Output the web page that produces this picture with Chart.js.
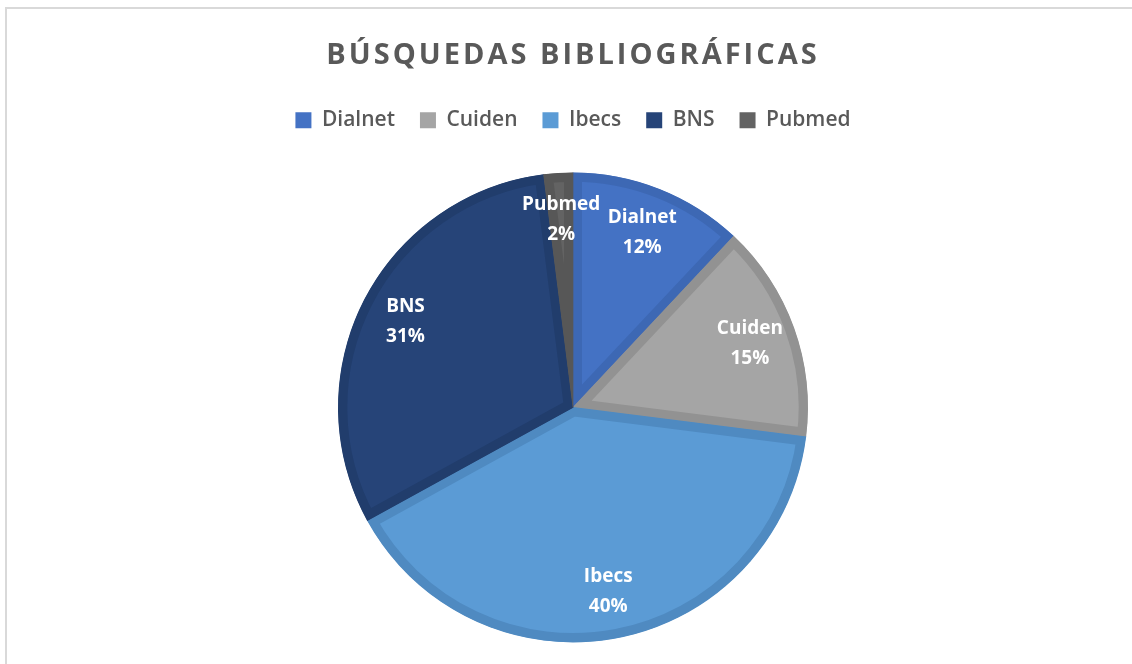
<!DOCTYPE html>
<html>
<head>
<meta charset="utf-8">
<script src="https://cdn.jsdelivr.net/npm/chart.js@4"></script>
<style>
  html, body { margin: 0; padding: 0; background: #fff; }
  body { width: 1132px; height: 664px; position: relative; overflow: hidden; }
  .frame { position: absolute; left: 5px; top: 7px; width: 1200px; height: 700px;
           border-left: 2px solid #d9d9d9; border-top: 2px solid #d9d9d9; }
  #wrap { position: absolute; left: 0; top: 0; width: 1132px; height: 664px; }
</style>
</head>
<body>
<div class="frame"></div>
<div id="wrap"><canvas id="pieCanvas"></canvas></div>
<script>
// datos de la gráfica
const categories = ['Dialnet', 'Cuiden', 'Ibecs', 'BNS', 'Pubmed'];
const values = [12, 15, 40, 31, 2];
const fillColors = ['#4472C4', '#A5A5A5', '#5B9BD5', '#264478', '#636363'];
const edgeColors = ['#3D68B4', '#929292', '#4F8AC1', '#213D6C', '#575757'];

Chart.defaults.font.family = "'Open Sans', 'DejaVu Sans', sans-serif";

// etiquetas dentro de cada porción (nombre + porcentaje)
const sliceLabels = {
    id: 'sliceLabels',
    afterDatasetsDraw(chart) {
        const { ctx } = chart;
        const meta = chart.getDatasetMeta(0);
        const data = chart.data.datasets[0].data;
        const total = data.reduce((a, b) => a + b, 0);
        ctx.save();
        ctx.fillStyle = '#ffffff';
        ctx.font = "bold 19px 'Open Sans', sans-serif";
        ctx.textAlign = 'center';
        ctx.textBaseline = 'middle';
        meta.data.forEach((arc, i) => {
            const p = arc.getProps(['x', 'y', 'startAngle', 'endAngle', 'outerRadius'], true);
            const mid = (p.startAngle + p.endAngle) / 2;
            const r = p.outerRadius * 0.8;
            const x = p.x + Math.cos(mid) * r;
            const y = p.y + Math.sin(mid) * r;
            ctx.fillText(chart.data.labels[i], x, y - 15);
            ctx.fillText(Math.round(data[i] / total * 100) + '%', x, y + 15);
        });
        ctx.restore();
    }
};

// más espacio bajo la leyenda + espaciado de letras en el título
const layoutTweaks = {
    id: 'layoutTweaks',
    beforeInit(chart) {
        const fit = chart.legend.fit;
        chart.legend.fit = function () {
            fit.bind(chart.legend)();
            this.height += 34;
        };
    },
    afterLayout(chart) {
        const tb = chart.titleBlock;
        if (tb && !tb._spaced) {
            const draw = tb.draw;
            tb.draw = function () {
                const ctx = chart.ctx;
                const prev = ctx.letterSpacing;
                ctx.letterSpacing = '3px';
                draw.call(tb);
                ctx.letterSpacing = prev || '0px';
            };
            tb._spaced = true;
        }
    }
};

new Chart(document.getElementById('pieCanvas'), {
    type: 'pie',
    data: {
        labels: categories,
        datasets: [{
            data: values,
            backgroundColor: fillColors,
            borderColor: edgeColors,
            borderWidth: 9,
            borderAlign: 'inner',
            hoverOffset: 0
        }]
    },
    options: {
        responsive: true, maintainAspectRatio: false, animation: false,
        radius: 235,
        layout: { padding: { left: 14, bottom: 24 } },
        plugins: {
            title: {
                display: true, text: 'BÚSQUEDAS BIBLIOGRÁFICAS', color: '#595959',
                font: { size: 29, weight: 'bold' }, padding: { top: 38, bottom: 12 }
            },
            legend: {
                position: 'top',
                labels: {
                    color: '#595959', font: { size: 21, weight: '600' },
                    boxWidth: 16, boxHeight: 16, padding: 25,
                    generateLabels(chart) {
                        return chart.data.labels.map((label, i) => ({
                            text: label, fillStyle: fillColors[i], strokeStyle: fillColors[i],
                            lineWidth: 0, fontColor: '#595959', index: i, hidden: false
                        }));
                    }
                }
            },
            tooltip: { enabled: false }
        }
    },
    plugins: [sliceLabels, layoutTweaks]
});
</script>
</body>
</html>
